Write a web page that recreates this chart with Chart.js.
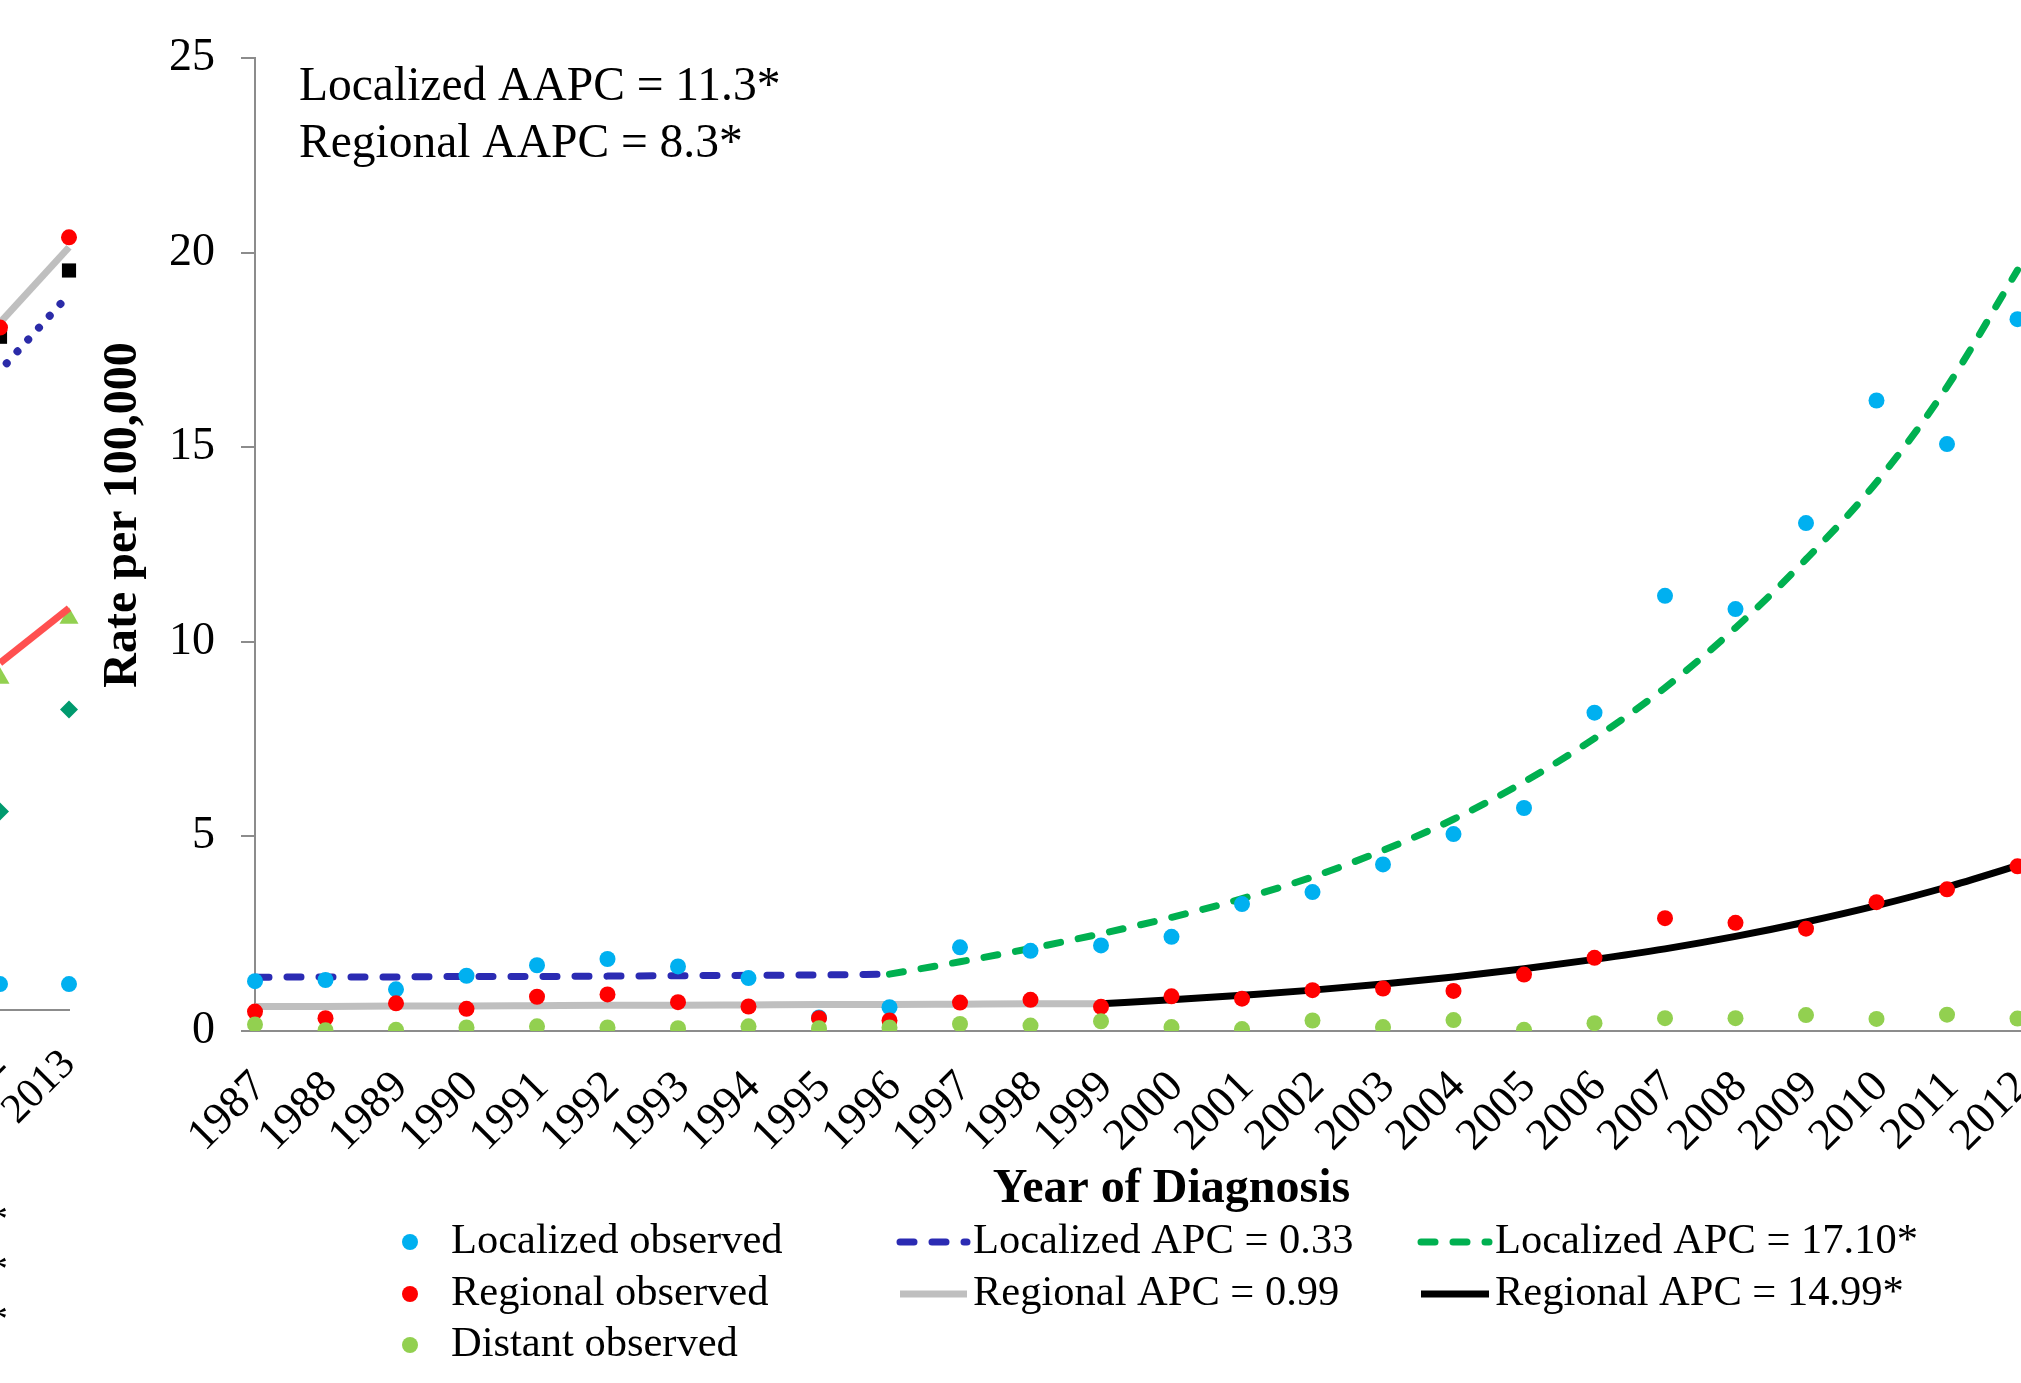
<!DOCTYPE html>
<html>
<head>
<meta charset="utf-8">
<title>Rate per 100,000 by Year of Diagnosis</title>
<script src="https://cdn.jsdelivr.net/npm/chart.js@4.4.1/dist/chart.umd.min.js"></script>
<style>
  html, body { margin: 0; padding: 0; background: #ffffff; width: 2021px; height: 1383px; overflow: hidden; }
  canvas { position: absolute; left: 0; top: 0; }
</style>
</head>
<body>
<canvas id="prev" width="140" height="1383"></canvas>
<canvas id="main" width="2120" height="1383"></canvas>
<script>
// ---------- main panel data ----------
const years = ['1987','1988','1989','1990','1991','1992','1993','1994','1995','1996',
               '1997','1998','1999','2000','2001','2002','2003','2004','2005','2006',
               '2007','2008','2009','2010','2011','2012','2013'];

const localizedObserved = [1.28, 1.31, 1.07, 1.42, 1.69, 1.85, 1.66, 1.36, 0.35, 0.61,
                           2.15, 2.06, 2.20, 2.42, 3.26, 3.57, 4.28, 5.06, 5.73, 8.18,
                           11.18, 10.84, 13.05, 16.20, 15.08, 18.29, null];
const regionalObserved  = [0.50, 0.33, 0.71, 0.57, 0.88, 0.94, 0.74, 0.63, 0.33, 0.27,
                           0.73, 0.80, 0.62, 0.89, 0.83, 1.05, 1.09, 1.03, 1.45, 1.88,
                           2.90, 2.78, 2.63, 3.31, 3.64, 4.23, null];
const distantObserved   = [0.17, 0.02, 0.03, 0.09, 0.12, 0.09, 0.07, 0.12, 0.07, 0.09,
                           0.18, 0.14, 0.25, 0.10, 0.05, 0.27, 0.10, 0.28, 0.03, 0.20,
                           0.33, 0.33, 0.41, 0.31, 0.42, 0.32, null];

// joinpoint segments (modelled rates)
const localizedApcEarly = [1.38, 1.39, 1.39, 1.40, 1.40, 1.41, 1.42, 1.43, 1.44, 1.46,
                           null, null, null, null, null, null, null, null, null, null,
                           null, null, null, null, null, null, null];
const localizedApcLate  = [null, null, null, null, null, null, null, null, null, 1.46,
                           1.78, 2.12, 2.50, 2.92, 3.40, 3.96, 4.64, 5.44, 6.40, 7.52,
                           8.82, 10.36, 12.12, 14.10, 16.55, 19.55, null];
const regionalApcEarly  = [0.63, 0.63, 0.64, 0.64, 0.65, 0.66, 0.66, 0.67, 0.68, 0.68,
                           0.69, 0.70, 0.70, null, null, null, null, null, null, null,
                           null, null, null, null, null, null, null];
const regionalApcLate   = [null, null, null, null, null, null, null, null, null, null,
                           null, null, 0.70, 0.80, 0.92, 1.05, 1.21, 1.39, 1.60, 1.84,
                           2.11, 2.43, 2.80, 3.22, 3.70, 4.25, null];

const yTicks = [0, 5, 10, 15, 20, 25];
const aapcNotes = ['Localized AAPC = 11.3*', 'Regional AAPC = 8.3*'];
const yTitle = 'Rate per 100,000';
const xTitle = 'Year of Diagnosis';

// ---------- preceding panel (right-hand end only) ----------
const prevYears     = ['2012', '2013'];
const prevCircles   = [17.92, 20.29];
const prevSquares   = [17.68, 19.42];
const prevGreyFit   = [18.05, 20.03];
const prevBlueFit   = [16.79, 18.79];
const prevRedFit    = [9.11, 10.55];
const prevTriangles = [8.71, 10.29];
const prevDiamonds  = [5.21, 7.89];
const prevDots      = [0.68, 0.68];
const prevLegendMarks = ['*', '*', '*'];

const serif = '"Liberation Serif", "Times New Roman", Times, serif';
const axisGrey = '#8c8c8c';

// ---------- overlay: notes, y title, three-column legend ----------
const legendColumns = [
  { x: 410, textX: 451, items: [0, 1, 2] },
  { x: 896, textX: 973, items: [3, 4] },
  { x: 1417, textX: 1495, items: [5, 6] }
];
const legendRows = [1242, 1294, 1345];

const overlayPlugin = {
  id: 'overlay',
  afterDraw(chart) {
    const ctx = chart.ctx;
    ctx.save();
    ctx.fillStyle = '#000';

    ctx.font = '47.5px ' + serif;
    ctx.textAlign = 'left';
    ctx.textBaseline = 'alphabetic';
    aapcNotes.forEach((t, i) => ctx.fillText(t, 299, 100 + i * 57));

    ctx.save();
    ctx.translate(124, 515);
    ctx.rotate(-Math.PI / 2);
    ctx.font = 'bold 48px ' + serif;
    ctx.textAlign = 'center';
    ctx.textBaseline = 'middle';
    ctx.fillText(yTitle, 0, 0);
    ctx.restore();

    ctx.font = '42.5px ' + serif;
    ctx.textAlign = 'left';
    ctx.textBaseline = 'middle';
    legendColumns.forEach(col => {
      col.items.forEach((di, r) => {
        const ds = chart.data.datasets[di];
        const y = legendRows[r];
        if (ds.showLine === false) {
          ctx.beginPath();
          ctx.fillStyle = ds.backgroundColor;
          ctx.arc(col.x, y, ds.pointRadius, 0, Math.PI * 2);
          ctx.fill();
        } else {
          ctx.beginPath();
          ctx.strokeStyle = ds.borderColor;
          ctx.lineWidth = ds.borderWidth;
          ctx.lineCap = ds.borderCapStyle || 'butt';
          ctx.setLineDash(ds.borderDash || []);
          ctx.moveTo(col.x + 4, y);
          ctx.lineTo(col.textX - 6, y);
          ctx.stroke();
          ctx.setLineDash([]);
        }
        ctx.fillStyle = '#000';
        ctx.fillText(ds.label, col.textX, y);
      });
    });
    ctx.restore();
  }
};

function pointSet(label, data, color, order) {
  return { label, data, showLine: false, backgroundColor: color, borderColor: color,
           borderWidth: 0, pointRadius: 8, pointHoverRadius: 8, order };
}
function fitSet(label, data, color, dash, order) {
  return { label, data, borderColor: color, backgroundColor: color, borderWidth: 7,
           borderDash: dash, borderCapStyle: dash.length ? 'round' : 'butt',
           pointRadius: 0, cubicInterpolationMode: 'monotone', spanGaps: false, order };
}

new Chart(document.getElementById('main'), {
  type: 'line',
  data: {
    labels: years,
    datasets: [
      pointSet('Localized observed', localizedObserved, '#00b0f0', 3),
      pointSet('Regional observed', regionalObserved, '#ff0000', 2),
      pointSet('Distant observed', distantObserved, '#92d050', 1),
      fitSet('Localized APC = 0.33', localizedApcEarly, '#2b2bb3', [14, 18], 5),
      fitSet('Regional APC = 0.99', regionalApcEarly, '#bfbfbf', [], 6),
      fitSet('Localized APC = 17.10*', localizedApcLate, '#00b050', [14, 18], 4),
      fitSet('Regional APC = 14.99*', regionalApcLate, '#000000', [], 4)
    ]
  },
  options: {
    responsive: false,
    devicePixelRatio: 1,
    animation: false,
    events: [],
    layout: { autoPadding: false, padding: { left: 0, right: 32, top: 58, bottom: 160 } },
    plugins: { legend: { display: false }, tooltip: { enabled: false } },
    scales: {
      x: {
        type: 'category',
        offset: false,
        grid: { display: true, drawOnChartArea: false, drawTicks: false },
        border: { display: true, color: axisGrey, width: 2 },
        ticks: { autoSkip: false, maxRotation: 45, minRotation: 45, padding: 30, labelOffset: 5,
                 color: '#000', font: { family: serif, size: 45 },
                 // the closing year sits past the right-hand edge of the frame
                 callback: (v, i) => (i < years.length - 1 ? years[i] : '') },
        title: { display: true, text: xTitle, color: '#000',
                 font: { family: serif, size: 48, weight: 'bold' },
                 padding: { top: 0, bottom: 5 } },
        afterFit(s) { s.height = 192; s.paddingLeft = 0; s.paddingRight = 0; }
      },
      y: {
        min: 0, max: 25,
        afterBuildTicks(s) { s.ticks = yTicks.map(v => ({ value: v })); },
        grid: { drawOnChartArea: false, drawTicks: true, tickLength: 14, color: axisGrey, lineWidth: 2 },
        border: { display: true, color: axisGrey, width: 2 },
        ticks: { padding: 26, color: '#000', font: { family: serif, size: 46 } },
        afterFit(s) { s.width = 255; s.paddingTop = 0; s.paddingBottom = 0; }
      }
    }
  },
  plugins: [overlayPlugin]
});

// ---------- preceding panel ----------
const prevMarksPlugin = {
  id: 'prevMarks',
  afterDraw(chart) {
    const ctx = chart.ctx;
    ctx.save();
    ctx.fillStyle = '#000';
    ctx.font = '42px ' + serif;
    ctx.textAlign = 'right';
    ctx.textBaseline = 'middle';
    prevLegendMarks.forEach((m, i) => ctx.fillText(m, 8, 1222 + i * 50));
    ctx.restore();
  }
};

function prevPoints(data, color, style, radius, order) {
  return { data, showLine: false, pointStyle: style, pointRadius: radius,
           backgroundColor: color, borderColor: color, borderWidth: 0, order };
}
function prevLine(data, color, width, dash, order, extra) {
  return Object.assign({ data, borderColor: color, borderWidth: width, borderDash: dash,
           pointRadius: 0, order }, extra || {});
}

new Chart(document.getElementById('prev'), {
  type: 'line',
  data: {
    labels: prevYears,
    datasets: [
      prevPoints(prevCircles, '#ff0000', 'circle', 8, 1),
      prevLine(prevGreyFit, '#bfbfbf', 7, [], 2),
      prevPoints(prevSquares, '#000000', 'rect', 10, 3),
      prevLine(prevBlueFit, '#2b2ba8', 8, [0.01, 16], 3, { borderCapStyle: 'round', borderDashOffset: 6 }),
      prevLine(prevRedFit, '#ff5050', 7, [], 2),
      prevPoints(prevTriangles, '#92d050', 'triangle', 11, 3),
      prevPoints(prevDiamonds, '#009a6e', 'rectRot', 9, 3),
      prevPoints(prevDots, '#00b0f0', 'circle', 8, 3)
    ]
  },
  options: {
    responsive: false,
    devicePixelRatio: 1,
    animation: false,
    events: [],
    layout: { autoPadding: false, padding: { left: 0, right: 71, top: 58, bottom: 0 } },
    plugins: { legend: { display: false }, tooltip: { enabled: false } },
    scales: {
      x: {
        offset: false,
        grid: { display: true, drawOnChartArea: false, drawTicks: false },
        border: { display: true, color: axisGrey, width: 2 },
        ticks: { autoSkip: false, maxRotation: 45, minRotation: 45, padding: 30,
                 color: '#000', font: { family: serif, size: 42 } },
        afterFit(s) { s.height = 373; s.paddingLeft = 0; s.paddingRight = 0; }
      },
      y: { display: false, min: 0, max: 25 }
    }
  },
  plugins: [prevMarksPlugin]
});
</script>
</body>
</html>
